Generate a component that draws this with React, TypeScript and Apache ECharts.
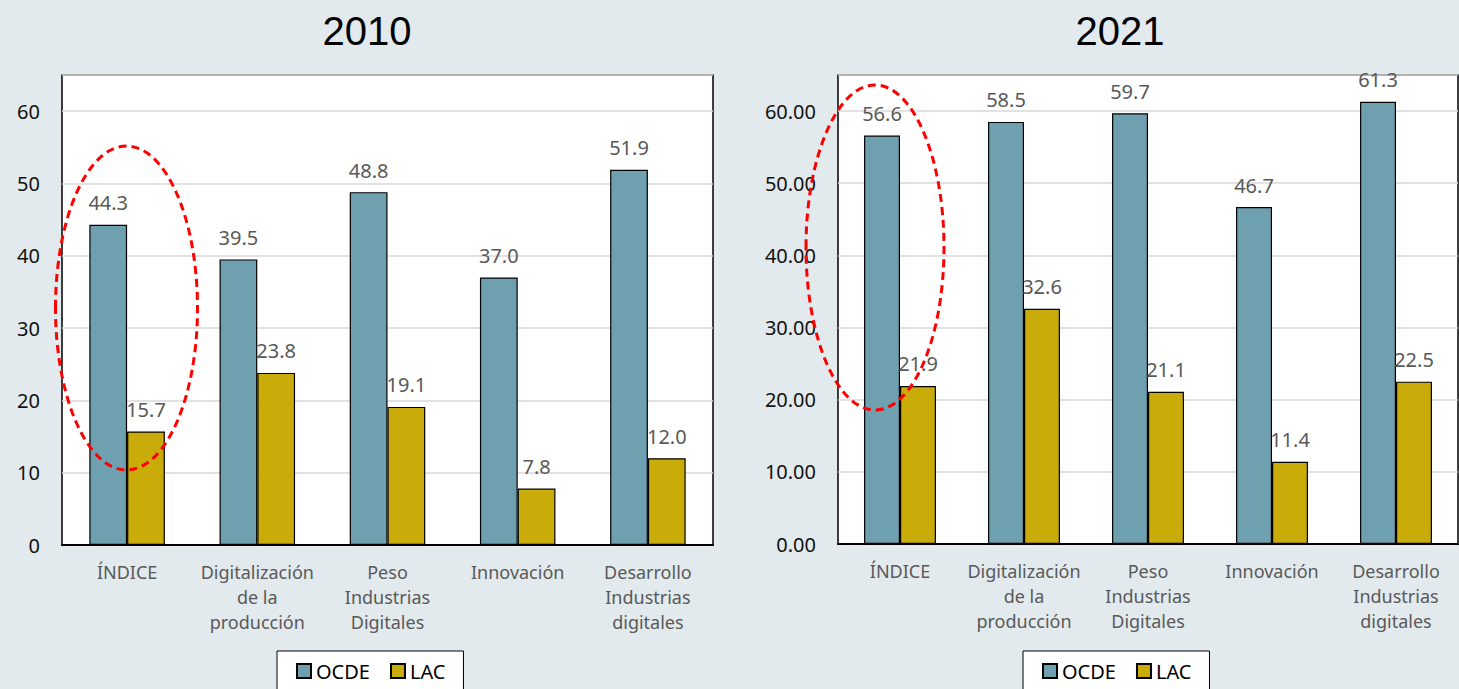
import React, { useEffect, useRef } from "react";
import * as echarts from "echarts";

// Categories shown on both panels
const categories = [
  "ÍNDICE",
  "Digitalización\nde la\nproducción",
  "Peso\nIndustrias\nDigitales",
  "Innovación",
  "Desarrollo\nIndustrias\ndigitales",
];

const ocde2010 = [44.3, 39.5, 48.8, 37.0, 51.9];
const lac2010 = [15.7, 23.8, 19.1, 7.8, 12.0];
const ocde2021 = [56.6, 58.5, 59.7, 46.7, 61.3];
const lac2021 = [21.9, 32.6, 21.1, 11.4, 22.5];

const panelTitles = ["2010", "2021"];
const seriesNames = ["OCDE", "LAC"];

const COLOR_OCDE = "#6fa0b0";
const COLOR_LAC = "#c9ab09";
const FONT = "'Noto Sans', sans-serif";

export default function App() {
  const ref = useRef<HTMLDivElement>(null);

  useEffect(() => {
    if (!ref.current) return;
    const chart = echarts.init(ref.current, undefined, { renderer: "svg" });

    const yAxisFor = (gridIndex: number, decimals: number) => ({
      type: "value" as const,
      gridIndex,
      min: 0,
      max: 65,
      interval: 10,
      axisLine: { show: false },
      axisTick: { show: false },
      splitLine: { lineStyle: { color: "#d9d9d9", width: 1.5 } },
      axisLabel: {
        showMaxLabel: false,
        margin: 22,
        color: "#111",
        fontSize: 20,
        fontFamily: FONT,
        formatter: (v: number) => v.toFixed(decimals),
      },
    });

    const xAxisFor = (gridIndex: number) => ({
      type: "category" as const,
      gridIndex,
      data: categories,
      axisLine: { lineStyle: { color: "#000", width: 2 } },
      axisTick: { show: false },
      axisLabel: {
        interval: 0,
        margin: 14,
        color: "#595959",
        fontSize: 18,
        lineHeight: 25,
        fontFamily: FONT,
      },
    });

    const barSeries = (
      name: string,
      data: number[],
      color: string,
      axisIndex: number
    ) => ({
      type: "bar" as const,
      name,
      data,
      xAxisIndex: axisIndex,
      yAxisIndex: axisIndex,
      barGap: "0%",
      barCategoryGap: "42%",
      itemStyle: { color, borderColor: "#000", borderWidth: 1.2 },
      label: {
        show: true,
        position: "top" as const,
        distance: 12,
        color: "#595959",
        fontSize: 20,
        fontFamily: FONT,
        formatter: (p: any) => Number(p.value).toFixed(1),
      },
    });

    const legendFor = (left: number) => ({
      data: seriesNames,
      left,
      top: 651,
      icon: "rect",
      itemWidth: 14,
      itemHeight: 14,
      itemGap: 20,
      backgroundColor: "#fff",
      borderColor: "#000",
      borderWidth: 1,
      padding: [10, 18, 30, 19],
      textStyle: { color: "#000", fontSize: 20, fontFamily: FONT },
    });

    const dashedEllipse = (cx: number, cy: number, rx: number, ry: number) => ({
      type: "ellipse",
      z: 100,
      shape: { cx, cy, rx, ry },
      style: {
        fill: "none",
        stroke: "#ff0000",
        lineWidth: 3,
        lineDash: [8, 5],
      },
    });

    const titleText = (x: number, text: string) => ({
      type: "text",
      x,
      y: 31,
      style: {
        text,
        align: "center",
        verticalAlign: "middle",
        fill: "#000",
        font: "40px 'Liberation Sans', Arial, sans-serif",
      },
    });

    chart.setOption({
      animation: false,
      backgroundColor: "#e2eaed",
      grid: [
        {
          left: 62,
          top: 75,
          width: 651,
          height: 470,
          show: true,
          backgroundColor: "#fff",
          borderColor: "#000",
          borderWidth: 1.5,
        },
        {
          left: 838,
          top: 75,
          width: 620,
          height: 469,
          show: true,
          backgroundColor: "#fff",
          borderColor: "#000",
          borderWidth: 1.5,
        },
      ],
      xAxis: [xAxisFor(0), xAxisFor(1)],
      yAxis: [yAxisFor(0, 0), yAxisFor(1, 2)],
      legend: [legendFor(277), legendFor(1023)],
      series: [
        barSeries(seriesNames[0], ocde2010, COLOR_OCDE, 0),
        barSeries(seriesNames[1], lac2010, COLOR_LAC, 0),
        barSeries(seriesNames[0], ocde2021, COLOR_OCDE, 1),
        barSeries(seriesNames[1], lac2021, COLOR_LAC, 1),
      ],
      graphic: [
        titleText(367, panelTitles[0]),
        titleText(1120, panelTitles[1]),
        dashedEllipse(126.5, 308, 71, 162),
        dashedEllipse(875, 247.5, 69, 162.5),
      ],
    });

    return () => chart.dispose();
  }, []);

  return (
    <div
      ref={ref}
      style={{ position: "absolute", left: 0, top: 0, width: 1459, height: 689 }}
    />
  );
}
